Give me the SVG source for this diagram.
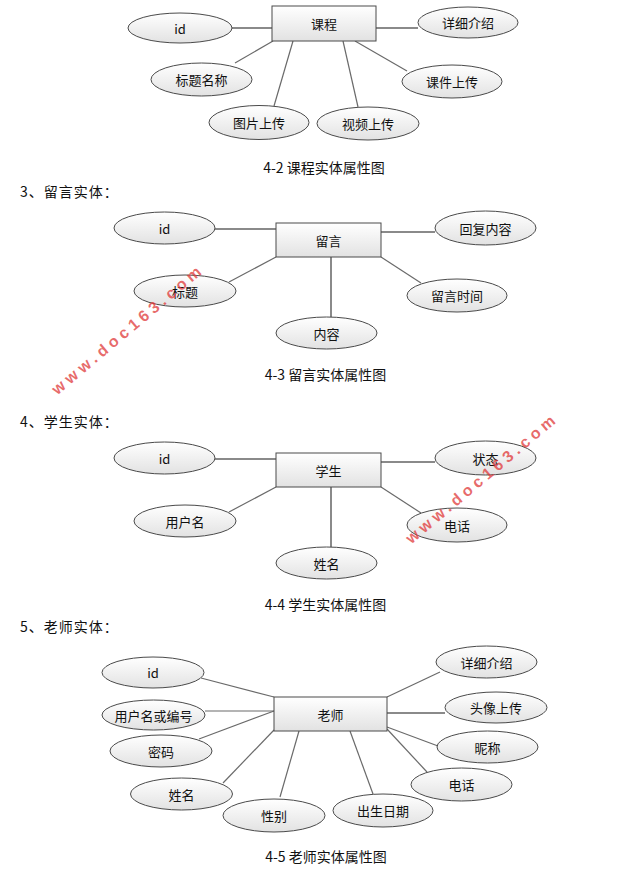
<svg xmlns="http://www.w3.org/2000/svg" width="635" height="879" viewBox="0 0 635 879">
<defs>
<linearGradient id="g" x1="0" y1="0" x2="0" y2="1">
<stop offset="0" stop-color="#ffffff"/>
<stop offset="1" stop-color="#e2e2e2"/>
</linearGradient>
<style>
ellipse{fill:url(#g);stroke:#4a4a4a;stroke-width:1}
rect{fill:url(#g);stroke:#4a4a4a;stroke-width:1}
.c line{stroke:#6a6a6a;stroke-width:1.2}
.c line.h{stroke:#8a8a8a;stroke-width:2}
text{font-family:"Noto Sans CJK SC","Liberation Sans",sans-serif;fill:#111}
.l{font-size:13px;text-anchor:middle;dominant-baseline:central}
.cap{font-size:14px;text-anchor:middle;dominant-baseline:central}
.hd{font-size:14px;letter-spacing:1px;dominant-baseline:central}
.wm{font-family:"Liberation Sans",sans-serif;font-weight:bold;font-size:16px;letter-spacing:4.3px;fill:#e03a3a;fill-opacity:0.75;text-anchor:middle;dominant-baseline:central}
</style>
</defs>
<rect x="0" y="0" width="635" height="879" style="fill:#fff;stroke:none"/>

<g class="c" id="connectors">
<!-- D1 -->
<line class="h" x1="232" y1="28" x2="272" y2="28"/>
<line class="h" x1="376" y1="28" x2="418" y2="28"/>
<line x1="235" y1="63" x2="273" y2="41"/>
<line x1="274" y1="106" x2="293" y2="41"/>
<line x1="358" y1="107" x2="343" y2="41"/>
<line x1="407" y1="71" x2="355" y2="41"/>
<!-- D2 -->
<line class="h" x1="215" y1="229" x2="276" y2="229"/>
<line class="h" x1="381" y1="232" x2="435" y2="232"/>
<line x1="229" y1="282" x2="276" y2="257"/>
<line class="h" x1="331" y1="257" x2="331" y2="317"/>
<line x1="381" y1="257" x2="421" y2="283"/>
<!-- D3 -->
<line class="h" x1="215" y1="459" x2="276" y2="459"/>
<line class="h" x1="381" y1="462" x2="435" y2="462"/>
<line x1="229" y1="512" x2="276" y2="487"/>
<line class="h" x1="331" y1="487" x2="331" y2="547"/>
<line x1="381" y1="487" x2="421" y2="513"/>
<!-- D4 -->
<line x1="201" y1="678" x2="274" y2="697"/>
<line x1="205" y1="711" x2="274" y2="711"/>
<line x1="199" y1="739" x2="274" y2="711"/>
<line x1="223" y1="783" x2="274" y2="730"/>
<line x1="280" y1="797" x2="299" y2="731"/>
<line x1="373" y1="794" x2="350" y2="731"/>
<line x1="387" y1="697" x2="440" y2="672"/>
<line class="h" x1="387" y1="713" x2="445" y2="713"/>
<line x1="387" y1="727" x2="438" y2="746"/>
<line x1="387" y1="729" x2="427" y2="772"/>
</g>

<!-- Diagram 1: 课程 -->
<g id="e-kecheng"><rect x="272" y="6" width="104" height="35"/><text class="l" x="324" y="23.5">课程</text></g>
<g id="a1-id"><ellipse cx="180" cy="28" rx="52" ry="15"/><text class="l" x="180" y="28">id</text></g>
<g id="a1-xiangxi"><ellipse cx="468" cy="22.5" rx="50" ry="15.5"/><text class="l" x="468" y="22.5">详细介绍</text></g>
<g id="a1-biaoti"><ellipse cx="201.5" cy="79.5" rx="50.5" ry="16.5"/><text class="l" x="201.5" y="79.5">标题名称</text></g>
<g id="a1-kejian"><ellipse cx="452" cy="81.5" rx="50" ry="16.5"/><text class="l" x="452" y="81.5">课件上传</text></g>
<g id="a1-tupian"><ellipse cx="259" cy="122.5" rx="50" ry="17"/><text class="l" x="259" y="122.5">图片上传</text></g>
<g id="a1-shipin"><ellipse cx="368" cy="123.5" rx="51" ry="16.5"/><text class="l" x="368" y="123.5">视频上传</text></g>
<text class="cap" x="324" y="167">4-2 课程实体属性图</text>

<!-- Diagram 2: 留言 -->
<text class="hd" x="20" y="191">3、留言实体：</text>
<g id="e-liuyan"><rect x="276" y="223" width="105" height="34"/><text class="l" x="328.5" y="240">留言</text></g>
<g id="a2-id"><ellipse cx="164.5" cy="228" rx="50.5" ry="16"/><text class="l" x="164.5" y="228">id</text></g>
<g id="a2-huifu"><ellipse cx="485.5" cy="228" rx="50.5" ry="17"/><text class="l" x="485.5" y="228">回复内容</text></g>
<g id="a2-biaoti"><ellipse cx="185" cy="291" rx="51" ry="16"/><text class="l" x="185" y="291">标题</text></g>
<g id="a2-neirong"><ellipse cx="326.5" cy="333" rx="50.5" ry="16"/><text class="l" x="326.5" y="333">内容</text></g>
<g id="a2-shijian"><ellipse cx="457" cy="295.5" rx="50" ry="16.5"/><text class="l" x="457" y="295.5">留言时间</text></g>
<text class="cap" x="325.5" y="374">4-3 留言实体属性图</text>

<!-- Diagram 3: 学生 -->
<text class="hd" x="20" y="421">4、学生实体：</text>
<g id="e-xuesheng"><rect x="276" y="453" width="105" height="34"/><text class="l" x="328.5" y="470">学生</text></g>
<g id="a3-id"><ellipse cx="164.5" cy="458" rx="50.5" ry="16"/><text class="l" x="164.5" y="458">id</text></g>
<g id="a3-zhuangtai"><ellipse cx="485.5" cy="458" rx="50.5" ry="17"/><text class="l" x="485.5" y="458">状态</text></g>
<g id="a3-yonghuming"><ellipse cx="185" cy="521" rx="51" ry="16"/><text class="l" x="185" y="521">用户名</text></g>
<g id="a3-xingming"><ellipse cx="326.5" cy="563" rx="50.5" ry="16"/><text class="l" x="326.5" y="563">姓名</text></g>
<g id="a3-dianhua"><ellipse cx="457" cy="525" rx="50" ry="17"/><text class="l" x="457" y="525">电话</text></g>
<text class="cap" x="325.5" y="604">4-4 学生实体属性图</text>

<!-- Diagram 4: 老师 -->
<text class="hd" x="20" y="626">5、老师实体：</text>
<g id="e-laoshi"><rect x="274" y="697" width="113" height="34"/><text class="l" x="330.5" y="714">老师</text></g>
<g id="a4-id"><ellipse cx="153" cy="672.5" rx="51" ry="15.5"/><text class="l" x="153" y="672.5">id</text></g>
<g id="a4-yonghuming"><ellipse cx="153.5" cy="715" rx="51.5" ry="15"/><text class="l" x="153.5" y="715">用户名或编号</text></g>
<g id="a4-mima"><ellipse cx="161" cy="751" rx="51" ry="16"/><text class="l" x="161" y="751">密码</text></g>
<g id="a4-xingming"><ellipse cx="181.5" cy="794" rx="51" ry="16"/><text class="l" x="181.5" y="794">姓名</text></g>
<g id="a4-xingbie"><ellipse cx="274" cy="815.5" rx="51" ry="16.5"/><text class="l" x="274" y="815.5">性别</text></g>
<g id="a4-chusheng"><ellipse cx="383" cy="810.5" rx="50" ry="16.5"/><text class="l" x="383" y="810.5">出生日期</text></g>
<g id="a4-xiangxi"><ellipse cx="486.5" cy="662" rx="50.5" ry="16"/><text class="l" x="486.5" y="662">详细介绍</text></g>
<g id="a4-touxiang"><ellipse cx="496" cy="707.5" rx="51" ry="15.5"/><text class="l" x="496" y="707.5">头像上传</text></g>
<g id="a4-nicheng"><ellipse cx="487.5" cy="747" rx="50.5" ry="16"/><text class="l" x="487.5" y="747">昵称</text></g>
<g id="a4-dianhua"><ellipse cx="461.5" cy="784.5" rx="50.5" ry="16.5"/><text class="l" x="461.5" y="784.5">电话</text></g>
<text class="cap" x="326" y="856">4-5 老师实体属性图</text>

<!-- watermarks -->
<text class="wm" transform="translate(128 329) rotate(-40)">www.doc163.com</text>
<text class="wm" transform="translate(482 478) rotate(-40)">www.doc163.com</text>
</svg>
